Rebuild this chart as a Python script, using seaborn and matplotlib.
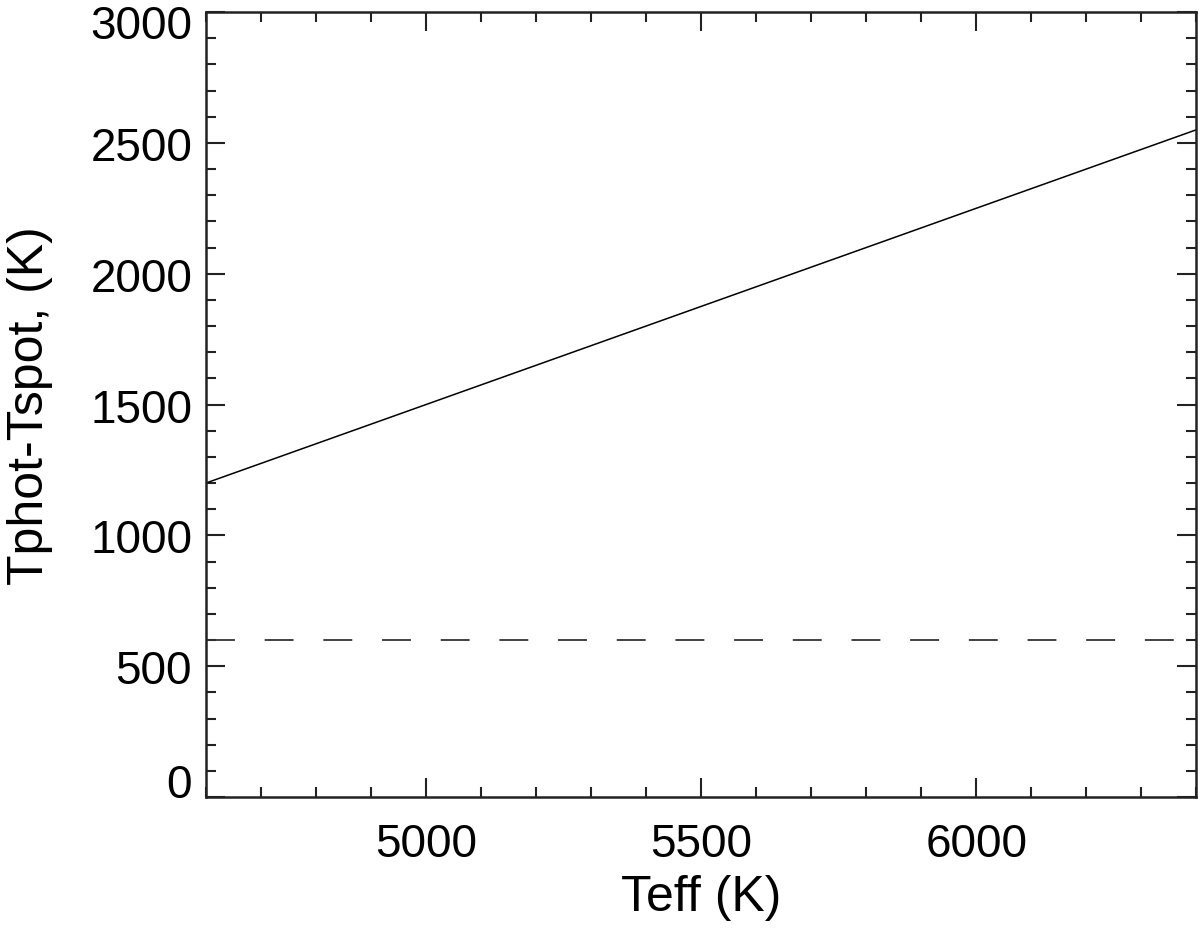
import numpy as np
import pandas as pd
import matplotlib
matplotlib.use("Agg")
import matplotlib.pyplot as plt
from matplotlib.ticker import MultipleLocator
from matplotlib.transforms import ScaledTranslation
import seaborn as sns

# data
teff = [4600, 6400]
dt_spot = [1200, 2550]
dt_const = [600, 600]
xtick_vals = [5000, 5500, 6000]
ytick_vals = [0, 500, 1000, 1500, 2000, 2500, 3000]

df = pd.DataFrame({"teff": teff, "dt": dt_spot})
df_const = pd.DataFrame({"teff": teff, "dt": dt_const})

sns.set_style("ticks")
plt.rcParams['font.family'] = ['Liberation Sans', 'DejaVu Sans']
plt.rcParams['text.color'] = 'black'
plt.rcParams['xtick.labelcolor'] = 'black'
plt.rcParams['ytick.labelcolor'] = 'black'
plt.rcParams['axes.labelcolor'] = 'black'

fig = plt.figure(figsize=(12, 9.29), dpi=100)
ax = fig.add_axes([0.1717, 0.141, 0.8253, 0.845])

sns.lineplot(data=df, x="teff", y="dt", ax=ax, color="black", linewidth=1.1)
sns.lineplot(data=df_const, x="teff", y="dt", ax=ax, color="#333333",
             linewidth=1.3, linestyle=(0, (16, 16.5)))

ax.set_xlim(4600, 6400)
ax.set_ylim(0, 3000)
ax.set_xticks(xtick_vals)
ax.set_yticks(ytick_vals)
ax.xaxis.set_minor_locator(MultipleLocator(100))
ax.yaxis.set_minor_locator(MultipleLocator(100))

ax.tick_params(which="both", direction="in", top=True, right=True,
               color="#222222", width=1.5)
ax.tick_params(which="major", length=14, labelsize=33)
ax.tick_params(axis="y", which="major", pad=10)
ax.tick_params(axis="x", which="major", pad=18)
ax.tick_params(which="minor", length=7)
for sp in ax.spines.values():
    sp.set_linewidth(1.8)
    sp.set_color("#222222")

ax.set_xlabel("Teff (K)", fontsize=36, labelpad=6)
ax.set_ylabel("Tphot-Tspot, (K)", fontsize=36)
ax.yaxis.set_label_coords(-0.155, 0.5)

# keep the end labels of the y axis inside the frame, as in the original
fig.canvas.draw()
yticks = ax.yaxis.get_major_ticks()
yticks[0].label1.set_verticalalignment("baseline")
yticks[-1].label1.set_transform(yticks[-1].label1.get_transform()
                                + ScaledTranslation(0, -0.085, fig.dpi_scale_trans))

fig.savefig("out.png", dpi=100)
